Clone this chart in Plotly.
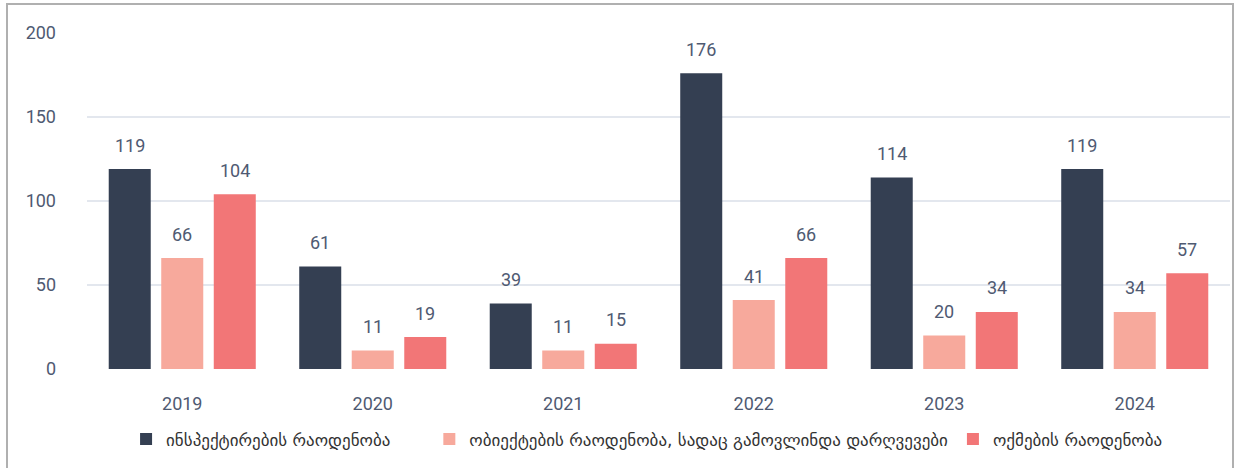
import plotly.graph_objects as go

years = [2019, 2020, 2021, 2022, 2023, 2024]
inspections = [119, 61, 39, 176, 114, 119]
objects_violations = [66, 11, 11, 41, 20, 34]
acts = [104, 19, 15, 66, 34, 57]

names = [
    "ინსპექტირების რაოდენობა",
    "ობიექტების რაოდენობა, სადაც გამოვლინდა დარღვევები",
    "ოქმების რაოდენობა",
]
colors = ["#343f52", "#f7a99c", "#f27677"]
grid_vals = [50, 100, 150]

label_font = dict(family="Roboto, sans-serif", size=18, color="#4f5a72")

W, H = 1234, 468
ML, MR, MT, MB = 87, 4, 33, 99
bargap, groupgap = 0.173, 0.2

fig = go.Figure()
series = [inspections, objects_violations, acts]
pad = ["\u2003\u2003", "", ""]  # extra room after the first legend entry
for name, vals, col, p in zip(names, series, colors, pad):
    fig.add_trace(go.Bar(name=name + p, x=years, y=vals, marker_color=col, marker_line_width=0))

# value labels above the bars (a bit higher than plotly's outside text)
group_px = (W - ML - MR) / len(years) * (1 - bargap)
slot_px = group_px / len(series)
for i, vals in enumerate(series):
    dx = (i - (len(series) - 1) / 2) * slot_px
    for yr, v in zip(years, vals):
        fig.add_annotation(x=yr, y=v, text=str(v), showarrow=False, xshift=dx,
                           yshift=24, font=label_font)

for v in grid_vals:
    fig.add_hline(y=v, line_color="#e3e7ee", line_width=2, layer="below")

# outer frame
pw, ph = W - ML - MR, H - MT - MB
fig.add_shape(type="rect", xref="paper", yref="paper",
              x0=(7 - ML) / pw, x1=(W - 1 - ML) / pw,
              y0=-(MB + 20) / ph, y1=(ph + MT - 4) / ph,
              line=dict(color="#b0b0b0", width=2))

fig.update_layout(
    width=W, height=H,
    margin=dict(l=ML, r=MR, t=MT, b=MB),
    plot_bgcolor="white", paper_bgcolor="white",
    barmode="group", bargap=bargap, bargroupgap=groupgap,
    showlegend=True,
    legend=dict(orientation="h", x=0.49, xanchor="center", y=-0.21, yanchor="middle",
                font=dict(family="DejaVu Sans", size=17, color="#333333"),
                itemwidth=30, traceorder="normal"),
    font=label_font,
)
fig.update_yaxes(range=[0, 200], tickvals=[0, 50, 100, 150, 200], showgrid=False,
                 zeroline=False, ticklabelstandoff=30, tickfont=label_font)
fig.update_xaxes(range=[years[0] - 0.5, years[-1] + 0.5], tickvals=years, showgrid=False,
                 showline=False, zeroline=False, ticklabelstandoff=22, tickfont=label_font)

fig.write_html("out.html", config={"displayModeBar": False},
               post_script="document.body.style.margin='0';")
